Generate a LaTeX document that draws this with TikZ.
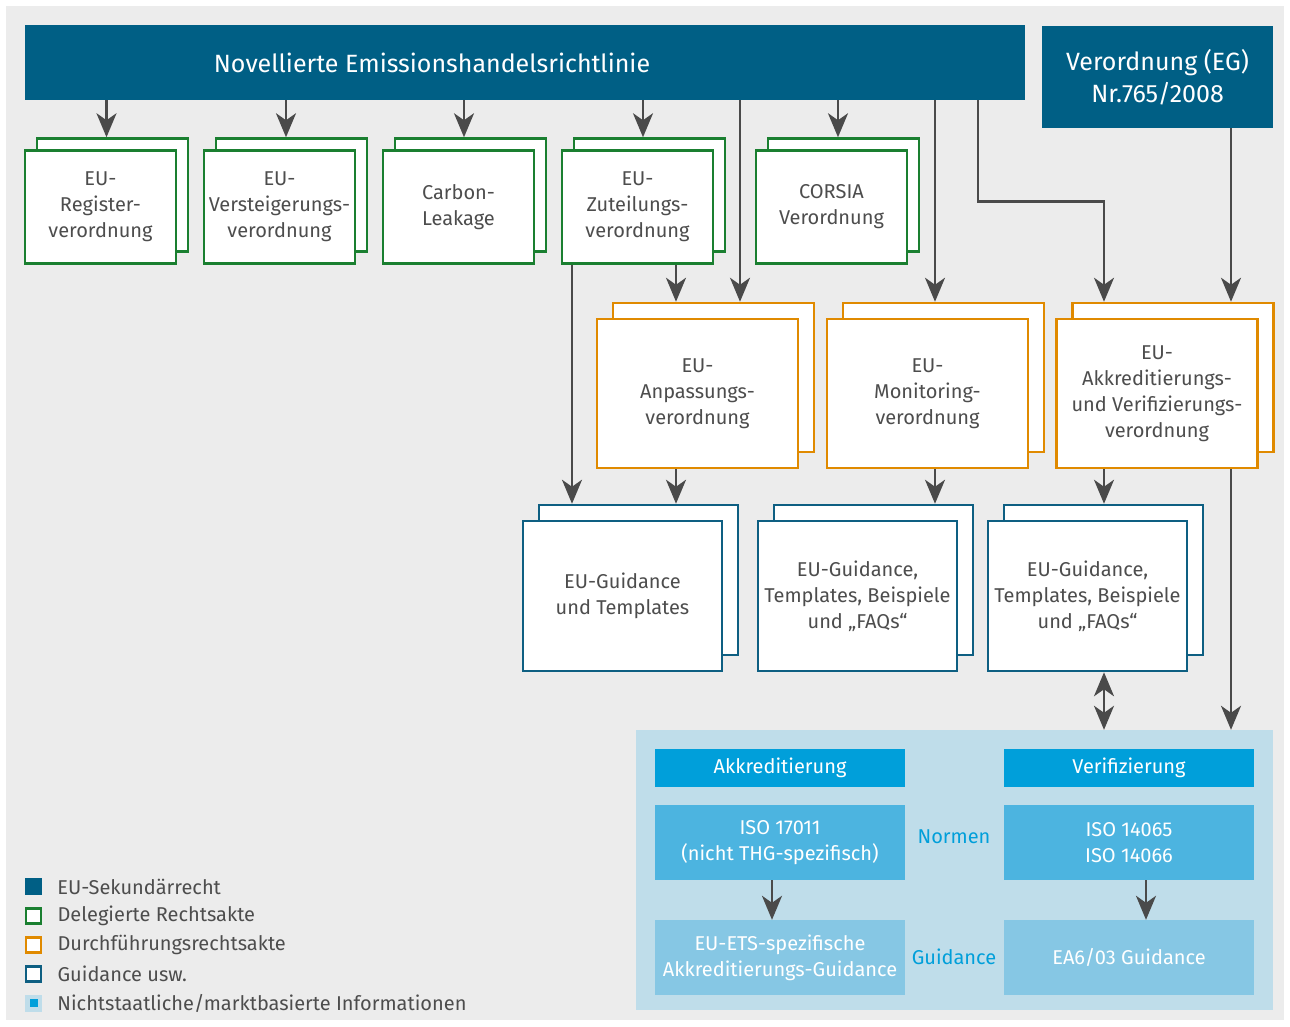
\documentclass[tikz,border=0pt]{standalone}
\usepackage{fontspec}
\setmainfont{Fira Sans}
\usetikzlibrary{arrows.meta, positioning, calc, shadows}

\definecolor{hgrund}{HTML}{ECECEC}
\definecolor{dunkelblau}{HTML}{005F85}
\definecolor{gruen}{HTML}{1A7F30}
\definecolor{orange}{HTML}{E08A00}
\definecolor{guidblau}{HTML}{0E5F82}
\definecolor{kopfblau}{HTML}{009FDA}
\definecolor{isoblau}{HTML}{4CB4E0}
\definecolor{hellblau}{HTML}{86C7E4}
\definecolor{panel}{HTML}{BFDDEA}
\definecolor{pfeil}{HTML}{4A4A4A}
\definecolor{schrift}{HTML}{4D4D4D}

\newcommand\kastenschrift{\fontsize{20}{26}\selectfont}
\newcommand\titelschrift{\fontsize{25}{32}\selectfont}

\begin{document}
\begin{tikzpicture}[
  x=1pt, y=-1pt,
  kasten/.style    = {fill=white, line width=2.5pt, align=center, text=schrift,
                      font=\kastenschrift, inner sep=2pt},
  deleg/.style     = {kasten, draw=gruen, minimum width=151pt, minimum height=113pt,
                      copy shadow={shadow xshift=12pt, shadow yshift=12pt,
                                   fill=white, draw=gruen, line width=2.5pt}},
  durch/.style     = {kasten, draw=orange, minimum width=201pt, minimum height=149pt,
                      copy shadow={shadow xshift=16pt, shadow yshift=16pt,
                                   fill=white, draw=orange, line width=2.5pt}},
  guid/.style      = {kasten, draw=guidblau, minimum width=199pt, minimum height=150pt,
                      copy shadow={shadow xshift=16pt, shadow yshift=16pt,
                                   fill=white, draw=guidblau, line width=2.5pt}},
  sekundaer/.style = {fill=dunkelblau, text=white, align=center, font=\titelschrift},
  kopf/.style      = {fill=kopfblau, text=white, font=\kastenschrift,
                      minimum width=250pt, minimum height=38pt, inner sep=0pt},
  norm/.style      = {fill=isoblau, text=white, font=\kastenschrift, align=center,
                      minimum width=250pt, minimum height=75pt, inner sep=0pt},
  hilfe/.style     = {norm, fill=hellblau},
  zwischen/.style  = {text=kopfblau, font=\kastenschrift, inner sep=0pt},
  arrow/.style     = {draw=pfeil, line width=2.6pt, -{Stealth[length=24pt, width=20pt, inset=7pt]}},
  darrow/.style    = {arrow, {Stealth[length=24pt, width=20pt, inset=7pt]}-{Stealth[length=24pt, width=20pt, inset=7pt]}},
  legbox/.style    = {minimum size=17pt, inner sep=0pt},
  legsek/.style    = {legbox, fill=dunkelblau},
  legdel/.style    = {legbox, fill=white, draw=gruen, line width=2.8pt, minimum size=15pt},
  legdur/.style    = {legbox, fill=white, draw=orange, line width=2.8pt, minimum size=15pt},
  legguid/.style   = {legbox, fill=white, draw=guidblau, line width=2.8pt, minimum size=15pt},
  legnst/.style    = {legbox, fill=panel,
                      path picture={\fill[kopfblau] ($(path picture bounding box.center)+(-4,-4)$) rectangle ++(8,8);}},
  legtext/.style   = {text=schrift, font=\kastenschrift, inner sep=0pt, anchor=west}
]

  \useasboundingbox (0,0) rectangle (1290,1026);
  \fill[hgrund] (6,6) rectangle (1284,1020);

  % EU-Sekundaerrecht
  \node[sekundaer, minimum width=1000pt, minimum height=75pt,
        label={[text=white, font=\titelschrift, xshift=-93pt]center:Novellierte Emissionshandelsrichtlinie}]
        (novelle) at (525,62.5) {};
  \node[sekundaer, minimum width=231pt, minimum height=102pt] (eg) at (1157.5,77)
        {Verordnung (EG)\\Nr.765/2008};

  % Delegierte Rechtsakte
  \node[deleg] (reg)    at (100.5,207) {EU-\\Register-\\verordnung};
  \node[deleg] (verst)  at (279.5,207) {EU-\\Versteigerungs-\\verordnung};
  \node[deleg] (carbon) at (458.5,207) {Carbon-\\Leakage};
  \node[deleg] (zut)    at (637.5,207) {EU-\\Zuteilungs-\\verordnung};
  \node[deleg] (corsia) at (831.5,207) {CORSIA\\Verordnung};

  % Durchfuehrungsrechtsakte
  \node[durch] (anp) at (697.5,393.5) {EU-\\Anpassungs-\\verordnung};
  \node[durch] (mon) at (927.5,393.5) {EU-\\Monitoring-\\verordnung};
  \node[durch] (akk) at (1157,393.5)  {EU-\\Akkreditierungs-\\und Verifizierungs-\\verordnung};

  % Guidance
  \node[guid] (guid1) at (622.5,596)  {EU-Guidance\\und Templates};
  \node[guid] (guid2) at (857.5,596)  {EU-Guidance,\\Templates, Beispiele\\und „FAQs“};
  \node[guid] (guid3) at (1087.5,596) {EU-Guidance,\\Templates, Beispiele\\und „FAQs“};

  % Nichtstaatliche Informationen
  \node[fill=panel, minimum width=637pt, minimum height=280pt, inner sep=0pt] (panel) at (954.5,870) {};
  \node[kopf]  (akkkopf) at (780,768)    {Akkreditierung};
  \node[kopf]  (verkopf) at (1129,768)   {Verifizierung};
  \node[norm]  (iso1)    at (780,842.5)  {ISO 17011\\(nicht THG-spezifisch)};
  \node[norm]  (iso2)    at (1129,842.5) {ISO 14065\\ISO 14066};
  \node[hilfe] (akkguid) at (780,957.5)  {EU-ETS-spezifische\\Akkreditierungs-Guidance};
  \node[hilfe] (ea)      at (1129,957.5) {EA6/03 Guidance};
  \node[zwischen] (normen)   at (954,837) {Normen};
  \node[zwischen] (guidance) at (954,957) {Guidance};

  % Eingaenge (obere Kante der hinteren Kaesten)
  \coordinate (reg-in)    at ([shift={(6,-12)}]reg.north);
  \coordinate (verst-in)  at ([shift={(6.5,-12)}]verst.north);
  \coordinate (carbon-in) at ([shift={(5.5,-12)}]carbon.north);
  \coordinate (zut-in)    at ([shift={(5.5,-12)}]zut.north);
  \coordinate (corsia-in) at ([shift={(6.5,-12)}]corsia.north);
  \coordinate (anp-inA)   at ([shift={(-21.5,-16)}]anp.north);
  \coordinate (anp-inB)   at ([shift={(42.5,-16)}]anp.north);
  \coordinate (mon-in)    at ([shift={(7.5,-16)}]mon.north);
  \coordinate (akk-inA)   at ([shift={(-53,-16)}]akk.north);
  \coordinate (akk-inB)   at ([shift={(74,-16)}]akk.north);
  \coordinate (guid1-inA) at ([shift={(-50.5,-16)}]guid1.north);
  \coordinate (guid1-inB) at ([shift={(53.5,-16)}]guid1.north);
  \coordinate (guid2-in)  at ([shift={(77.5,-16)}]guid2.north);
  \coordinate (guid3-in)  at ([shift={(16.5,-16)}]guid3.north);

  % Richtlinie -> Verordnungen
  \draw[arrow] (reg-in |- novelle.south) -- (reg-in);
  \draw[arrow] (verst-in |- novelle.south) -- (verst-in);
  \draw[arrow] (carbon-in |- novelle.south) -- (carbon-in);
  \draw[arrow] (zut-in |- novelle.south) -- (zut-in);
  \draw[arrow] (corsia-in |- novelle.south) -- (corsia-in);
  \draw[arrow] (anp-inB |- novelle.south) -- (anp-inB);
  \draw[arrow] (mon-in |- novelle.south) -- (mon-in);
  \draw[arrow] ([xshift=453pt]novelle.south) -- ++(0,101) -| (akk-inA);
  \draw[arrow] (akk-inB |- eg.south) -- (akk-inB);

  % Zuteilung -> Anpassung, Guidance
  \draw[arrow] (anp-inA |- zut.south) -- (anp-inA);
  \draw[arrow] (guid1-inA |- zut.south) -- (guid1-inA);

  % Durchfuehrung -> Guidance
  \draw[arrow] (guid1-inB |- anp.south) -- (guid1-inB);
  \draw[arrow] (guid2-in |- mon.south) -- (guid2-in);
  \draw[arrow] (guid3-in |- akk.south) -- (guid3-in);

  % zur Akkreditierung / Verifizierung
  \draw[darrow] (guid3-in |- guid3.south) -- (guid3-in |- panel.north);
  \draw[arrow] (akk-inB |- akk.south) -- (akk-inB |- panel.north);
  \draw[arrow] ([xshift=-8pt]iso1.south) -- ([xshift=-8pt]akkguid.north);
  \draw[arrow] ([xshift=17pt]iso2.south) -- ([xshift=17pt]ea.north);

  % Legende
  \foreach \sty/\txt [count=\i] in {legsek/EU-Sekundärrecht, legdel/Delegierte Rechtsakte,
      legdur/Durchführungsrechtsakte, legguid/Guidance usw.,
      legnst/{Nichtstaatliche/marktbasierte Informationen}} {
    \node[\sty] (leg\i) at (33.5,{857.3+29.2*\i}) {};
    \node[legtext, right=15pt of leg\i] (legt\i) {\txt};
  }

\end{tikzpicture}
\end{document}
